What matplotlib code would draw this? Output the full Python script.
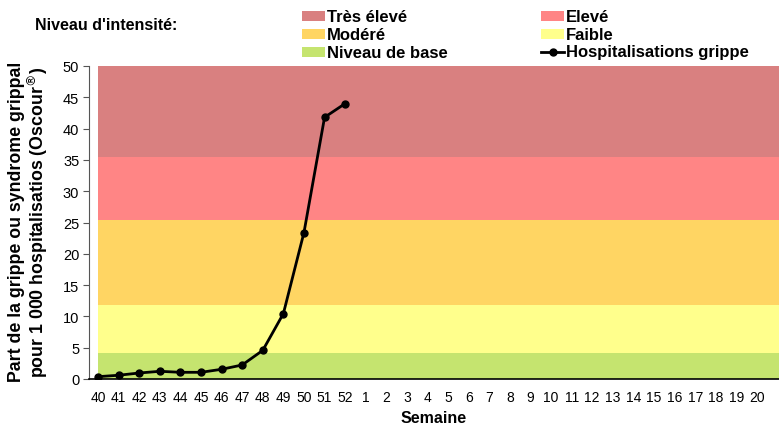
import numpy as np
import matplotlib.pyplot as plt
from matplotlib.patches import Rectangle
from matplotlib.lines import Line2D

# Semaines (saison 40 -> 20)
semaines = [str(s) for s in range(40, 53)] + [str(s) for s in range(1, 21)]
# Part de la grippe pour 1 000 hospitalisations (semaines 40 à 52)
hospit = [0.37, 0.6, 0.96, 1.23, 1.07, 1.07, 1.55, 2.24, 4.58, 10.45, 23.4, 41.8, 44.0]

# Seuils d'intensité
seuils = [0, 4.2, 11.9, 25.4, 35.5, 50]
niveaux = ['Niveau de base', 'Faible', 'Modéré', 'Elevé', 'Très élevé']
couleurs = ['#C5E46F', '#FFFF8C', '#FFD563', '#FF8585', '#D98080']

plt.rcParams['font.family'] = ['Liberation Sans', 'DejaVu Sans']

fig = plt.figure(figsize=(7.79, 4.27), dpi=100)
ax = fig.add_axes([89/779, 1-380/427, 690/779, 313/427])

x = np.arange(len(semaines))
xmax = 33.07
for i in range(len(niveaux)):
    ax.fill_between([0, xmax + 1], seuils[i], seuils[i+1], color=couleurs[i], lw=0, zorder=1)

ax.plot(x[:len(hospit)], hospit, color='black', lw=2, marker='o', ms=5, zorder=3)

ax.set_xlim(-0.44, xmax)
ax.set_ylim(0, 50)
ax.set_yticks(range(0, 51, 5))
ax.set_xticks(x)
ax.set_xticklabels(semaines, fontsize=10)
ax.tick_params(axis='x', length=0, pad=8)
ax.tick_params(axis='y', direction='out', length=4, labelsize=10.5, color='#555555', pad=3)
for sp in ['top', 'right']:
    ax.spines[sp].set_visible(False)
ax.spines['left'].set_color('#555555')
ax.spines['bottom'].set_color('black')
ax.spines['bottom'].set_linewidth(1.2)

ax.set_xlabel('Semaine', fontsize=11.5, fontweight='bold', labelpad=4)
fig.text(29/779, 1-222/427,
         "Part de la grippe ou syndrome grippal\npour 1 000 hospitalisatios (Oscour$^{®}$)",
         rotation=90, ha='center', va='center', fontsize=12.8, fontweight='bold', linespacing=1.0)

# Légende
fig.text(35/779, 1-25/427, "Niveau d'intensité:", fontsize=11.5, fontweight='bold', va='center')
items = [('Très élevé', couleurs[4], 302, 17), ('Elevé', couleurs[3], 541, 17),
         ('Modéré', couleurs[2], 302, 35), ('Faible', couleurs[1], 541, 35),
         ('Niveau de base', couleurs[0], 302, 53)]
for lab, col, px, py in items:
    fig.add_artist(Rectangle((px/779, 1-(py+5)/427), 23/779, 10/427,
                             transform=fig.transFigure, color=col, lw=0))
    fig.text((px+25)/779, 1-py/427, lab, fontsize=12, fontweight='bold', va='center')
fig.add_artist(Line2D([541/779, 564/779], [1-53/427, 1-53/427], transform=fig.transFigure,
                      color='black', lw=2))
fig.add_artist(Line2D([552.5/779], [1-53/427], transform=fig.transFigure,
                      color='black', marker='o', ms=5, lw=0))
fig.text(566/779, 1-53/427, 'Hospitalisations grippe', fontsize=12, fontweight='bold', va='center')

fig.savefig('out.png', dpi=100)
